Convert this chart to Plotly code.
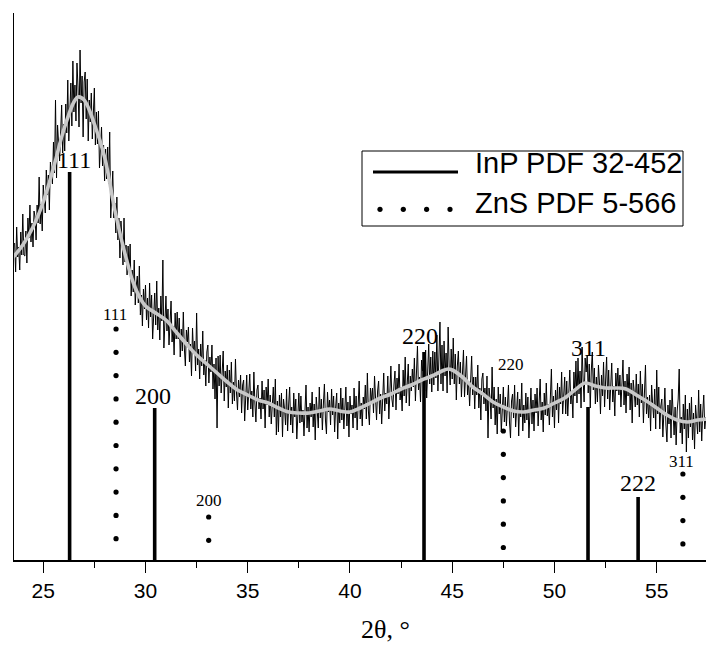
import numpy as np
import plotly.graph_objects as go

# ---------------- data ----------------
SCAN_START = 23.60   # 2theta of first recorded point
SCAN_STEP = 0.05     # 2theta step of the scan

intensity = [
    317, 288, 333, 303, 313, 290, 328, 305, 346, 305,
    304, 329, 297, 342, 322, 355, 318, 337, 313, 349,
    343, 320, 355, 337, 383, 336, 356, 329, 375, 356,
    347, 390, 365, 385, 350, 398, 387, 376, 418, 387,
    460, 382, 435, 408, 399, 427, 455, 407, 436, 409,
    456, 427, 480, 419, 455, 477, 434, 499, 448, 475,
    439, 497, 473, 433, 510, 457, 484, 423, 478, 488,
    441, 481, 419, 460, 438, 467, 421, 443, 472, 415,
    448, 416, 449, 392, 420, 433, 394, 415, 379, 411,
    381, 413, 376, 428, 342, 377, 389, 342, 357, 327,
    363, 320, 342, 302, 339, 322, 295, 342, 298, 315,
    285, 314, 289, 316, 264, 290, 268, 300, 255, 275,
    284, 257, 294, 245, 265, 234, 271, 251, 275, 240,
    262, 232, 277, 243, 265, 221, 254, 267, 235, 279,
    230, 252, 220, 264, 239, 300, 212, 250, 264, 229,
    251, 215, 242, 259, 218, 234, 205, 247, 221, 248,
    221, 242, 203, 231, 209, 248, 212, 194, 230, 218,
    233, 198, 216, 184, 232, 206, 219, 189, 247, 195,
    211, 181, 216, 194, 229, 185, 200, 174, 208, 215,
    177, 203, 188, 215, 171, 196, 161, 202, 132, 204,
    174, 205, 167, 185, 209, 159, 189, 173, 195, 152,
    190, 167, 198, 156, 178, 159, 201, 167, 150, 180,
    163, 185, 147, 175, 180, 139, 170, 185, 150, 167,
    186, 151, 169, 143, 188, 157, 138, 170, 175, 151,
    162, 141, 179, 151, 170, 132, 173, 155, 181, 143,
    165, 136, 159, 173, 143, 181, 125, 159, 128, 165,
    143, 167, 123, 161, 151, 135, 171, 129, 155, 173,
    135, 153, 127, 167, 143, 161, 121, 156, 167, 137,
    164, 138, 150, 124, 159, 175, 132, 153, 128, 157,
    143, 168, 133, 156, 120, 163, 149, 132, 173, 142,
    161, 130, 156, 176, 140, 126, 168, 148, 160, 135,
    171, 145, 164, 128, 153, 167, 121, 157, 137, 172,
    140, 162, 131, 154, 173, 134, 158, 123, 164, 146,
    155, 132, 172, 142, 164, 130, 153, 179, 141, 157,
    134, 163, 151, 175, 141, 187, 149, 135, 172, 159,
    172, 147, 184, 155, 140, 169, 179, 146, 166, 136,
    173, 187, 149, 167, 156, 184, 141, 178, 194, 161,
    153, 175, 189, 150, 182, 166, 196, 160, 173, 149,
    190, 164, 203, 157, 179, 196, 154, 184, 169, 191,
    173, 202, 159, 190, 214, 170, 183, 158, 200, 189,
    195, 169, 210, 162, 189, 216, 176, 203, 168, 209,
    175, 208, 182, 225, 169, 199, 238, 176, 215, 169,
    219, 184, 207, 167, 233, 194, 175, 211, 181, 222,
    176, 206, 160, 194, 209, 176, 198, 163, 188, 210,
    163, 187, 204, 165, 179, 154, 192, 204, 165, 183,
    151, 183, 165, 195, 152, 172, 140, 181, 187, 156,
    172, 149, 184, 122, 172, 162, 141, 193, 152, 173,
    135, 161, 126, 173, 146, 166, 128, 161, 173, 138,
    163, 134, 155, 175, 138, 122, 159, 166, 142, 175,
    133, 152, 168, 124, 161, 143, 177, 129, 155, 137,
    167, 140, 163, 122, 154, 172, 136, 160, 129, 166,
    147, 172, 134, 160, 181, 140, 158, 128, 167, 145,
    177, 144, 156, 135, 172, 191, 143, 164, 132, 170,
    150, 177, 137, 173, 156, 188, 146, 165, 183, 146,
    179, 144, 173, 190, 156, 169, 142, 188, 164, 199,
    157, 202, 166, 189, 152, 213, 181, 158, 202, 188,
    205, 167, 196, 152, 189, 208, 170, 192, 156, 183,
    158, 195, 177, 146, 185, 164, 198, 153, 179, 203,
    161, 190, 150, 178, 197, 158, 174, 144, 187, 169,
    192, 165, 185, 153, 175, 200, 155, 179, 147, 186,
    164, 193, 150, 177, 137, 180, 168, 153, 186, 155,
    176, 143, 189, 157, 176, 137, 167, 195, 146, 163,
    142, 165, 129, 175, 156, 142, 171, 131, 190, 146,
    173, 131, 154, 161, 123, 149, 172, 135, 118, 155,
    136, 160, 122, 171, 138, 125, 153, 115, 149, 161,
    191, 127, 143, 116, 156, 131, 165, 108, 151, 122,
    157, 133, 163, 120, 147, 111, 155, 142, 126, 170,
    128, 156, 119, 147, 165, 131, 143,
]

smooth_theta = [23.5, 24.0, 24.5, 25.0, 25.5, 26.0, 26.5, 26.7, 27.0, 27.5,
                28.0, 28.5, 29.0, 29.5, 30.0, 30.5, 31.0, 31.5, 32.0, 32.5,
                33.0, 33.5, 34.0, 34.5, 35.0, 35.5, 36.0, 36.5, 37.0, 37.5,
                38.0, 38.5, 39.0, 39.5, 40.0, 40.5, 41.0, 41.5, 42.0, 42.5,
                43.0, 43.5, 44.0, 44.5, 44.8, 45.0, 45.5, 46.0, 46.5, 47.0,
                47.5, 48.0, 48.5, 49.0, 49.5, 50.0, 50.5, 51.0, 51.5, 52.0,
                52.5, 53.0, 53.5, 54.0, 54.5, 55.0, 55.5, 56.0, 56.5, 57.0, 57.5]
smooth_intensity = [302, 315, 333, 358, 392, 430, 458, 463, 460, 436,
                    403, 350, 306, 272, 254, 247, 240, 228, 216, 205,
                    196, 187, 178, 170, 165, 160, 157, 152, 148, 147,
                    147, 149, 151, 149, 148, 152, 157, 162, 166, 171,
                    175, 180, 184, 189, 191, 190, 183, 173, 166, 158,
                    153, 149, 148, 150, 152, 157, 162, 170, 177, 174,
                    172, 172, 171, 165, 159, 152, 145, 140, 138, 140, 141]

inp_theta = [26.29, 30.45, 43.62, 51.64, 54.09]
inp_intensity = [388, 152, 208, 153, 63]
inp_hkl = ["111", "200", "220", "311", "222"]

zns_theta = [28.56, 33.09, 47.50, 56.28]
zns_intensity = [231, 43, 129, 86]
zns_hkl = ["111", "200", "220", "311"]

legend_names = ["InP PDF 32-452", "ZnS PDF 5-566"]

# ---------------- styling / layout constants ----------------
W, H = 706, 647
ML, MR, MT, MB = 14, 0, 13, 87
PW, PH = W - ML - MR, H - MT - MB
SANS = "Liberation Sans, Arial, sans-serif"
SERIF = "Liberation Serif, Times New Roman, serif"
DOT_GAP = 23.3   # spacing of the dots of a dotted reference line, in px (1 unit = 1 px)

inp_label_shift = [(4, 12), (-2, 12), (-4, 16), (0, 59), (0, 14)]
zns_label_shift = [(-1, 15), (0, 17), (8, 67), (-1, 13)]


def px_x(p):
    return (p - ML) / PW


def px_y(p):
    return (H - MB - p) / PH


theta = np.round(SCAN_START + SCAN_STEP * np.arange(len(intensity)), 2)

fig = go.Figure()

# InP reference bars (solid)
bx, by = [], []
for t, v in zip(inp_theta, inp_intensity):
    bx += [t, t, None]
    by += [0, v, None]
fig.add_trace(go.Scatter(x=bx, y=by, mode="lines",
                         line=dict(color="black", width=3.6),
                         showlegend=False, hoverinfo="skip"))

# ZnS reference bars (round dots hanging down from the line top)
dx_, dy_ = [], []
for t, v in zip(zns_theta, zns_intensity):
    yy = np.arange(v, 8, -DOT_GAP)
    dx_ += [t] * len(yy)
    dy_ += list(yy)
fig.add_trace(go.Scatter(x=dx_, y=dy_, mode="markers",
                         marker=dict(color="black", size=5.2, symbol="circle", line=dict(width=0)),
                         showlegend=False, hoverinfo="skip"))

# measured noisy pattern
fig.add_trace(go.Scatter(x=theta, y=intensity, mode="lines",
                         line=dict(color="black", width=1),
                         showlegend=False, hoverinfo="skip"))

# smoothed pattern
fig.add_trace(go.Scatter(x=smooth_theta, y=smooth_intensity, mode="lines",
                         line=dict(color="#c8c8c8", width=3.6, shape="spline", smoothing=1.0),
                         showlegend=False, hoverinfo="skip"))

annotations = []
for t, v, lab, (ddx, ddy) in zip(inp_theta, inp_intensity, inp_hkl, inp_label_shift):
    annotations.append(dict(x=t, y=v, xref="x", yref="y", text=lab, showarrow=False,
                            xanchor="center", yanchor="middle", xshift=ddx, yshift=ddy,
                            font=dict(family=SERIF, size=24, color="black")))
for t, v, lab, (ddx, ddy) in zip(zns_theta, zns_intensity, zns_hkl, zns_label_shift):
    annotations.append(dict(x=t, y=v, xref="x", yref="y", text=lab, showarrow=False,
                            xanchor="center", yanchor="middle", xshift=ddx, yshift=ddy,
                            font=dict(family=SERIF, size=17, color="black")))

# custom legend
shapes = [
    dict(type="rect", xref="paper", yref="paper",
         x0=px_x(362), x1=px_x(683), y0=px_y(151), y1=px_y(226),
         line=dict(color="black", width=1), fillcolor="white", layer="above"),
    dict(type="line", xref="paper", yref="paper",
         x0=px_x(373), x1=px_x(458), y0=px_y(172), y1=px_y(172),
         line=dict(color="black", width=3), layer="above"),
]
for cx in (380, 403.3, 426.6, 450):
    shapes.append(dict(type="circle", xref="paper", yref="paper",
                       x0=px_x(cx - 2.6), x1=px_x(cx + 2.6),
                       y0=px_y(209.3 - 2.6), y1=px_y(209.3 + 2.6),
                       fillcolor="black", line=dict(width=0), layer="above"))
annotations.append(dict(x=px_x(473), y=px_y(163), xref="paper", yref="paper",
                        text=legend_names[0], showarrow=False, xanchor="left", yanchor="middle",
                        font=dict(family=SANS, size=29, color="black")))
annotations.append(dict(x=px_x(473), y=px_y(203), xref="paper", yref="paper",
                        text=legend_names[1], showarrow=False, xanchor="left", yanchor="middle",
                        font=dict(family=SANS, size=29, color="black")))
# axis title
annotations.append(dict(x=px_x(385), y=px_y(646), xref="paper", yref="paper",
                        text="2θ, °", showarrow=False, xanchor="center", yanchor="bottom",
                        font=dict(family=SERIF, size=26, color="black")))

fig.update_layout(
    width=W, height=H,
    margin=dict(l=ML, r=MR, t=MT, b=MB, pad=0),
    paper_bgcolor="white", plot_bgcolor="white",
    showlegend=False,
    shapes=shapes,
    annotations=annotations,
    xaxis=dict(range=[23.57, 57.41], showgrid=False, zeroline=False,
               tickmode="array", tickvals=[25, 30, 35, 40, 45, 50, 55],
               ticks="outside", ticklen=11, tickwidth=1, tickcolor="black",
               minor=dict(ticks="outside", ticklen=6, tickwidth=1, tickcolor="black",
                          tickmode="array", tickvals=[27.5, 32.5, 37.5, 42.5, 47.5, 52.5, 57.5]),
               showline=True, linecolor="black", linewidth=1.5,
               tickfont=dict(family=SANS, size=21, color="black")),
    yaxis=dict(range=[0, PH], showgrid=False, zeroline=False, showticklabels=False,
               ticks="", showline=True, linecolor="black", linewidth=1.2),
)

fig.write_html("out.html",
               config={"displayModeBar": False},
               post_script="document.body.style.margin='0';document.body.style.overflow='hidden';")
